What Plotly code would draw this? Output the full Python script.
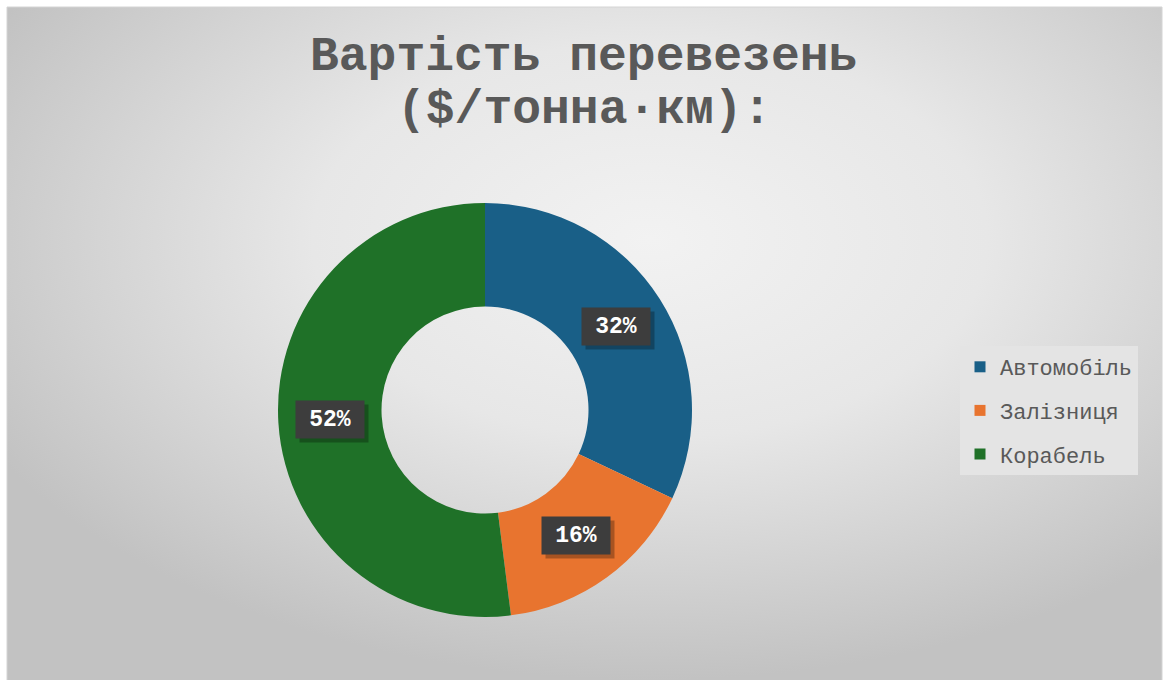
import math
import plotly.graph_objects as go

# Transport cost shares
categories = ["Автомобіль", "Залізниця", "Корабель"]
values = [32, 16, 52]
colors = ["#195f87", "#e8742f", "#1f7128"]
title_lines = ["Вартість перевезень", "($/тонна·км):"]

W, H = 1165, 680
mono = "Liberation Mono, Courier New, monospace"

# pie placement in pixels
cx, cy, r_out = 485, 410, 207
hole = 0.5

fig = go.Figure()

# chart-area background with a soft radial gradient (centre lifted towards the title, nudged right)
x0, x1, y0, y1 = -100, 1400, -200, 680
fig.add_trace(go.Scatter(
    x=[x0, x1, x1, x0, x0], y=[y0, y0, y1, y1, y0],
    mode="lines", fill="toself", line=dict(width=0),
    fillgradient=dict(type="radial",
                      colorscale=[[0, "#f2f2f2"], [0.45, "#e7e7e7"], [0.75, "#d3d3d3"], [1, "#c2c2c2"]]),
    hoverinfo="skip", showlegend=False,
))

fig.add_trace(go.Pie(
    labels=categories, values=values, sort=False, direction="clockwise",
    rotation=0, hole=hole,
    marker=dict(colors=colors, line=dict(width=0)),
    textinfo="none", hoverinfo="label+percent", showlegend=False,
    domain=dict(x=[(cx - r_out) / W, (cx + r_out) / W],
                y=[1 - (cy + r_out) / H, 1 - (cy - r_out) / H]),
))

# legend entries, one group each so the rows can be spaced apart
for i, (name, col) in enumerate(zip(categories, colors)):
    fig.add_trace(go.Scatter(
        x=[None], y=[None], mode="markers", name=name,
        marker=dict(symbol="square", size=11, color=col),
        legendgroup=f"g{i}", showlegend=True, hoverinfo="skip",
    ))

# data labels placed at the middle of each ring segment
total = sum(values)
r_mid = r_out * (1 + hole) / 2
cum = 0
for v in values:
    ang = math.radians((cum + v / 2) / total * 360)
    cum += v
    lx = cx + r_mid * math.sin(ang)
    ly = cy - r_mid * math.cos(ang)
    txt = f"{round(v / total * 100)}%"
    fig.add_annotation(x=lx + 4, y=ly + 4, xref="x", yref="y", text=" ",
                       showarrow=False, width=66, height=35,
                       bgcolor="rgba(0,0,0,0.28)")
    fig.add_annotation(x=lx, y=ly, xref="x", yref="y", text=f"<b>{txt}</b>",
                       showarrow=False, width=66, height=35,
                       font=dict(family=mono, size=23, color="white"),
                       bgcolor="#3d3d3d")

# two-line title
for line, ty in zip(title_lines, [57, 110]):
    fig.add_annotation(x=W / 2 + 1, y=ty, xref="x", yref="y", text=f"<b>{line}</b>",
                       showarrow=False, xanchor="center", yanchor="middle",
                       font=dict(family=mono, size=48, color="#595959"))

# white page edge around the chart area, with a thin grey frame
for rx0, rx1, ry0, ry1 in [(0, W, 0, 7), (0, 7, 0, H), (1162, W, 0, H)]:
    fig.add_shape(type="rect", x0=rx0, x1=rx1, y0=ry0, y1=ry1, xref="x", yref="y",
                  fillcolor="white", line=dict(width=0), layer="above")
fig.add_shape(type="path", path="M 7 680 L 7 7 L 1162 7 L 1162 680", xref="x", yref="y",
              line=dict(color="#d4d4d4", width=1), layer="above")

fig.update_layout(
    width=W, height=H,
    margin=dict(l=0, r=0, t=0, b=0),
    paper_bgcolor="white", plot_bgcolor="rgba(0,0,0,0)",
    xaxis=dict(range=[0, W], visible=False, fixedrange=True),
    yaxis=dict(range=[H, 0], visible=False, fixedrange=True),
    legend=dict(x=960 / W, y=1 - 346 / H, xanchor="left", yanchor="top",
                bgcolor="#e4e4e4", font=dict(family=mono, size=22, color="#595959"),
                itemwidth=30, tracegroupgap=12, traceorder="grouped"),
    showlegend=True,
)

fig.write_html("out.html")
